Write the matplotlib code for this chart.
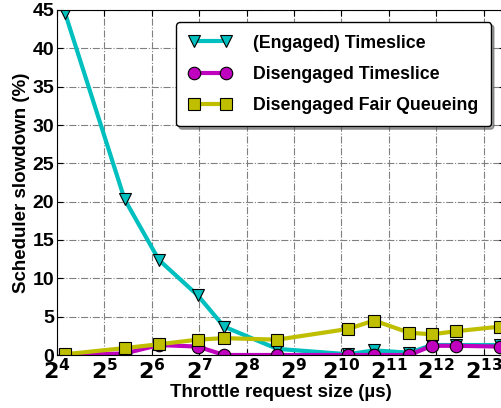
import numpy as np
import matplotlib
matplotlib.use("Agg")
import matplotlib.pyplot as plt

plt.rcParams['font.family'] = ['Liberation Sans', 'DejaVu Sans']
plt.rcParams['font.weight'] = 'bold'
plt.rcParams['mathtext.default'] = 'bf'

# throttle request sizes (us)
sizes = [18, 43, 71, 125, 184, 400, 1130, 1650, 2760, 3850, 5470, 10400]

engaged_ts = [44.6, 20.3, 12.4, 7.8, 3.7, 0.8, 0.1, 0.6, 0.3, 1.3, 1.3, 1.3]
diseng_ts = [0.0, 0.2, 1.3, 1.1, 0.0, 0.0, 0.0, 0.0, 0.0, 1.2, 1.2, 1.1]
diseng_fq = [0.1, 0.9, 1.4, 2.0, 2.2, 2.0, 3.4, 4.5, 2.9, 2.7, 3.1, 3.7]

labels = ['(Engaged) Timeslice', 'Disengaged Timeslice', 'Disengaged Fair Queueing']
xticks = [2**k for k in range(4, 14)]
xticklabels = ['$\\mathbf{2^{%d}}$' % k for k in range(4, 14)]

fig = plt.figure(figsize=(5.01, 4.08), dpi=100)
ax = fig.add_axes([57/501, 53/408, 448/501, 345/408])

ax.plot(sizes, engaged_ts, color='c', lw=3, marker='v', ms=9, mec='k', mew=0.8, label=labels[0])
ax.plot(sizes, diseng_ts, color='m', lw=3, marker='o', ms=9, mec='k', mew=0.8, label=labels[1])
ax.plot(sizes, diseng_fq, color='y', lw=3, marker='s', ms=9, mec='k', mew=0.8, label=labels[2])

ax.set_xscale('log', base=2)
ax.set_xlim(2**4, 2**13.45)
ax.set_ylim(0, 45)
ax.set_xticks(xticks)
ax.set_xticklabels(xticklabels, fontsize=16)
ax.minorticks_off()
ax.set_yticks(range(0, 46, 5))
ax.tick_params(axis='y', labelsize=14, pad=2)
ax.tick_params(axis='x', pad=3)
ax.tick_params(direction='in', top=True, right=True, length=4)
ax.grid(True, color='gray', linestyle='-.', linewidth=0.8)
ax.spines['right'].set_visible(False)

ax.set_xlabel('Throttle request size (µs)', fontsize=13.5, fontweight='bold', labelpad=0)
ax.set_ylabel('Scheduler slowdown (%)', fontsize=13.5, fontweight='bold', labelpad=2)

leg = ax.legend(loc='upper right', bbox_to_anchor=(0.969, 0.965), borderaxespad=0,
                fancybox=True, shadow=True, prop={'size': 12.8, 'weight': 'bold'},
                numpoints=2, handlelength=2.4, labelspacing=0.8, borderpad=0.7,
                handletextpad=1.25, framealpha=1, edgecolor='k')

fig.savefig('out.png', dpi=100)
